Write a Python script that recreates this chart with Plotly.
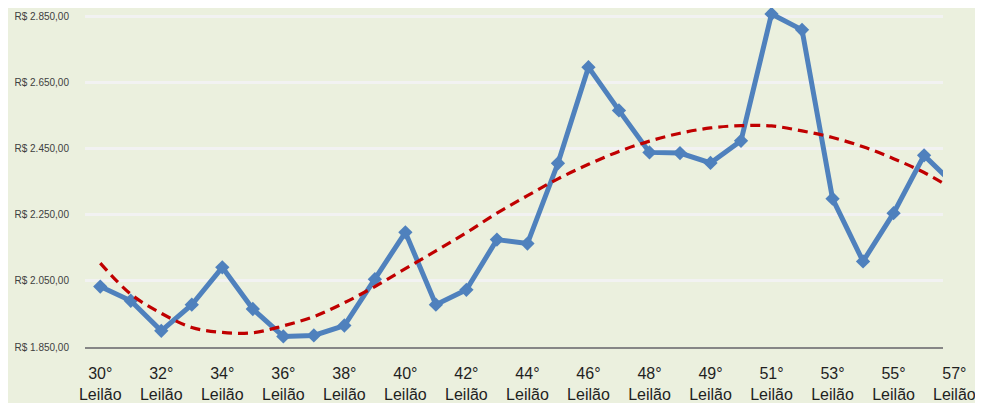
import plotly.graph_objects as go

categories = [
    "30° Leilão", "31° Leilão", "32° Leilão", "33° Leilão", "34° Leilão", "35° Leilão",
    "36° Leilão", "37° Leilão", "38° Leilão", "39° Leilão", "40° Leilão", "41° Leilão",
    "42° Leilão", "43° Leilão", "44° Leilão", "45° Leilão", "46° Leilão", "47° Leilão",
    "48° Leilão", "48° Leilão (2)", "49° Leilão", "50° Leilão", "51° Leilão", "52° Leilão",
    "53° Leilão", "54° Leilão", "55° Leilão", "56° Leilão", "57° Leilão",
]
prices = [
    2033, 1990, 1899, 1978, 2091, 1965, 1882, 1885, 1915, 2055,
    2197, 1978, 2023, 2175, 2163, 2406, 2697, 2566, 2439, 2437,
    2407, 2474, 2858, 2810, 2299, 2109, 2255, 2430, 2340,
]
trend = [
    2104, 2010, 1952, 1909, 1894, 1893, 1914, 1942, 1984, 2033,
    2087, 2141, 2196, 2255, 2308, 2359, 2403, 2442, 2473, 2497,
    2513, 2520, 2519, 2504, 2484, 2456, 2420, 2378, 2325,
]
y_ticks = [1850, 2050, 2250, 2450, 2650, 2850]
y_tick_text = ["R$ 1.850,00", "R$ 2.050,00", "R$ 2.250,00", "R$ 2.450,00", "R$ 2.650,00", "R$ 2.850,00"]

X_RANGE = [-0.5, 27.62]
Y_RANGE = [1850, 2876]

x = list(range(len(categories)))
labelled = list(range(0, len(categories), 2))
shown = [i for i in labelled if i <= X_RANGE[1]]
beyond = [i for i in labelled if i > X_RANGE[1]]

def two_line(c):
    num, word = c.split(" ", 1)
    return num + "<br>" + word.split(" ")[0]

BG = "#EBF0DE"
FONT = "Liberation Sans, Arial, sans-serif"
TICKFONT = dict(family=FONT, size=16, color="#1F1F1F")

fig = go.Figure()
fig.add_trace(go.Scatter(
    x=x, y=prices, mode="lines+markers", name="Preço",
    line=dict(color="#4F81BD", width=5),
    marker=dict(symbol="diamond", size=11, color="#4F81BD"),
    hovertext=categories,
))
fig.add_trace(go.Scatter(
    x=x, y=trend, mode="lines", name="Tendência",
    line=dict(color="#C00000", width=3.2, dash="10px,6px", shape="spline", smoothing=1.0),
))

# category labels that fall just past the clipped right edge of the plot area
for i in beyond:
    px = (i - X_RANGE[0]) / (X_RANGE[1] - X_RANGE[0])
    fig.add_annotation(
        x=px, y=0, xref="paper", yref="paper", yanchor="top", xanchor="center",
        yshift=-16, text=two_line(categories[i]), showarrow=False,
        font=TICKFONT,
    )

fig.update_layout(
    width=983, height=403,
    margin=dict(l=77, r=48, t=0, b=64),
    paper_bgcolor=BG, plot_bgcolor=BG,
    showlegend=False,
    font=dict(family=FONT),
    xaxis=dict(
        range=X_RANGE, tickmode="array", tickvals=shown,
        ticktext=[two_line(categories[i]) for i in shown],
        showgrid=False, zeroline=False, automargin=False,
        showline=True, linecolor="#868686", linewidth=1.5,
        ticks="", tickfont=TICKFONT,
        ticklabelstandoff=11,
    ),
    yaxis=dict(
        range=Y_RANGE, tickmode="array", tickvals=y_ticks, ticktext=y_tick_text,
        showgrid=True, gridcolor="#F2F2F2", gridwidth=2.5,
        zeroline=False, showline=False, ticks="", automargin=False,
        tickfont=dict(family=FONT, size=10, color="#404040"),
        ticklabelstandoff=15,
    ),
)

fig.write_html("out.html")
